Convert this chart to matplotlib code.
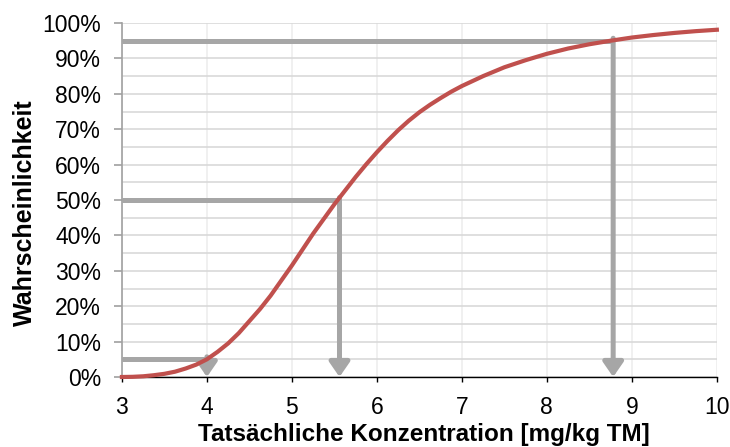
import matplotlib.pyplot as plt
from matplotlib.ticker import MultipleLocator, PercentFormatter

plt.rcParams['font.family'] = ['Liberation Sans', 'DejaVu Sans']

# Kurve: Konzentration [mg/kg TM] -> Wahrscheinlichkeit [%]
konz = [3.0, 3.125, 3.25, 3.375, 3.5, 3.625, 3.75, 3.875, 4.0, 4.125, 4.25,
        4.375, 4.5, 4.625, 4.75, 5.0, 5.25, 5.5, 5.75, 5.875, 6.0, 6.125,
        6.25, 6.375, 6.5, 6.625, 6.75, 6.875, 7.0, 7.25, 7.5, 7.75, 8.0,
        8.25, 8.5, 8.75, 9.0, 9.25, 9.5, 9.75, 10.0]
wahrsch = [0.0, 0.05, 0.2, 0.5, 0.9, 1.5, 2.4, 3.5, 5.0, 7.1, 9.5,
           12.4, 15.8, 19.2, 23.0, 31.5, 40.5, 48.8, 56.5, 60.1, 63.5, 66.7,
           69.7, 72.4, 74.8, 76.9, 78.8, 80.6, 82.2, 85.0, 87.5, 89.5, 91.3,
           92.8, 94.0, 95.0, 95.9, 96.6, 97.2, 97.7, 98.1]

# Quantile mit Pfeilen
q_wahrsch = [5, 50, 95]
q_konz = [4.0, 5.56, 8.78]

rot = '#C0504D'
grau = '#A6A6A6'

fig = plt.figure(figsize=(7.3, 4.47), dpi=100)
ax = fig.add_axes([0.167, 0.1566, 0.815, 0.7919])

ax.set_xlim(3, 10)
ax.set_ylim(0, 100)
ax.yaxis.set_major_locator(MultipleLocator(10))
ax.yaxis.set_minor_locator(MultipleLocator(5))
ax.xaxis.set_major_locator(MultipleLocator(1))
ax.yaxis.set_major_formatter(PercentFormatter(decimals=0))

ax.grid(axis='y', which='both', color='#D9D9D9', lw=1.2, zorder=0)
ax.grid(axis='x', which='major', color='#EEEEEE', lw=1.2, zorder=0)
ax.set_axisbelow(True)

for s in ['top', 'right']:
    ax.spines[s].set_visible(False)
ax.spines['left'].set_color('#A0A0A0')
ax.spines['left'].set_linewidth(1.2)
ax.spines['bottom'].set_color('black')
ax.spines['bottom'].set_linewidth(1.0)

ax.tick_params(axis='y', which='major', length=6, color='#A0A0A0', width=1.2,
               labelsize=16.5, pad=9)
ax.tick_params(axis='y', which='minor', length=0)
ax.tick_params(axis='x', length=3.6, color='black', width=1.0, labelsize=16.5, pad=10)

# Hilfslinien mit Pfeilen
for w, k in zip(q_wahrsch, q_konz):
    ax.plot([3, k], [w, w], color=grau, lw=3.6, solid_capstyle='butt', zorder=2)
    ax.annotate('', xy=(k, 0), xytext=(k, w + 0.7),
                arrowprops=dict(arrowstyle='-|>,head_width=0.38,head_length=0.55',
                                color=grau, lw=3.6, shrinkA=0, shrinkB=0,
                                mutation_scale=16),
                zorder=2)

ax.plot(konz, wahrsch, color=rot, lw=3, zorder=3, clip_on=False)

ax.set_xlabel('Tatsächliche Konzentration [mg/kg TM]', fontsize=17.5, fontweight='bold')
ax.set_ylabel('Wahrscheinlichkeit', fontsize=18, fontweight='bold')
ax.xaxis.set_label_coords(0.507, -0.13)
ax.yaxis.set_label_coords(-0.143, 0.465)

fig.savefig('out.png', dpi=100)
